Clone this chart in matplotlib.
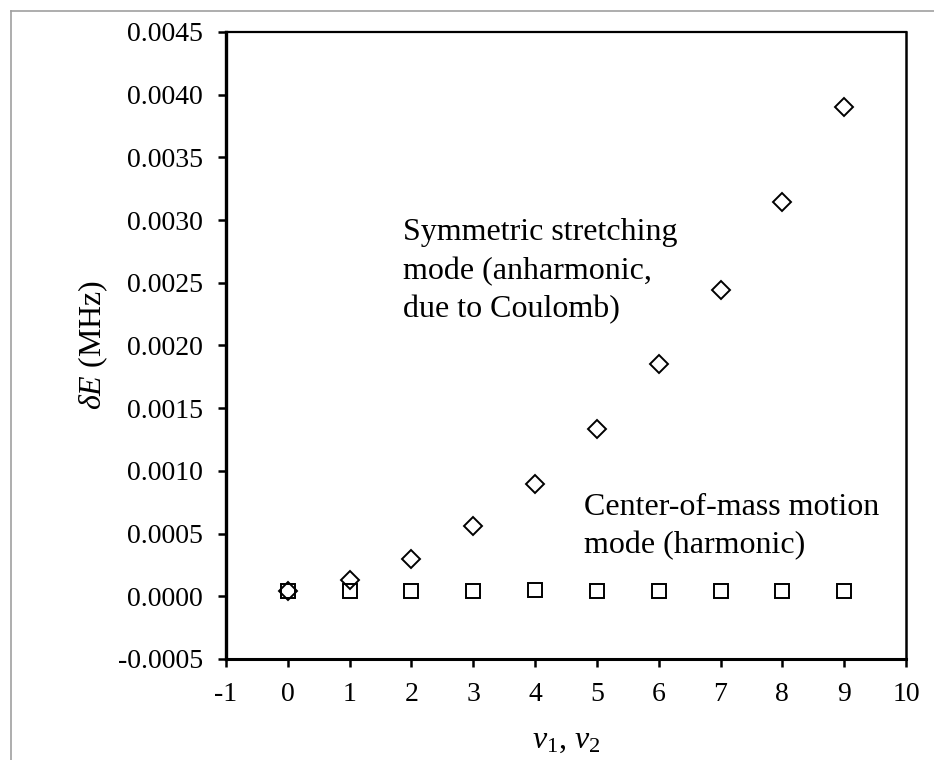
import matplotlib
matplotlib.use("Agg")
import matplotlib.pyplot as plt
from matplotlib.lines import Line2D
from matplotlib.ticker import FormatStrFormatter, MultipleLocator

plt.rcParams['font.family'] = ['Liberation Serif', 'DejaVu Serif']
plt.rcParams['mathtext.fontset'] = 'custom'
plt.rcParams['mathtext.rm'] = 'Liberation Serif'
plt.rcParams['mathtext.it'] = 'Liberation Serif:italic'
plt.rcParams['axes.unicode_minus'] = False

# vibrational quantum number (same for both modes)
quantum_n = [0, 1, 2, 3, 4, 5, 6, 7, 8, 9]
# energy shift in MHz
stretch_shift = [0.00004, 0.000126, 0.0003, 0.000556, 0.000896,
                 0.00133, 0.00185, 0.00244, 0.00314, 0.0039]
com_shift = [0.00004, 0.00004, 0.00004, 0.00004, 0.000048,
             0.00004, 0.00004, 0.00004, 0.00004, 0.00004]

stretch_label = "Symmetric stretching\nmode (anharmonic,\ndue to Coulomb)"
com_label = "Center-of-mass motion\nmode (harmonic)"

fig = plt.figure(figsize=(9.34, 7.6), dpi=100)
ax = fig.add_axes([0.242, 0.133, 0.728, 0.825])

ax.plot(quantum_n, stretch_shift, linestyle='none', marker='D', markersize=9.5,
        markerfacecolor='none', markeredgecolor='black', markeredgewidth=1.4)
ax.plot(quantum_n, com_shift, linestyle='none', marker='s', markersize=9.5,
        markerfacecolor='none', markeredgecolor='black', markeredgewidth=1.4)

ax.text(1.87, 0.00259, stretch_label, fontsize=23, ha='left', va='center',
        linespacing=1.42)
ax.text(4.79, 0.000554, com_label, fontsize=23, ha='left', va='center',
        linespacing=1.42)

ax.set_xlim(-1, 10)
ax.set_ylim(-0.0005, 0.0045)
ax.xaxis.set_major_locator(MultipleLocator(1))
ax.yaxis.set_major_locator(MultipleLocator(0.0005))
ax.xaxis.set_major_formatter(FormatStrFormatter('%d'))
ax.yaxis.set_major_formatter(FormatStrFormatter('%.4f'))

ax.spines['left'].set_linewidth(2.4)
ax.spines['bottom'].set_linewidth(2.2)
ax.spines['top'].set_linewidth(1.6)
ax.spines['right'].set_linewidth(1.8)
ax.tick_params(axis='both', direction='out', length=5.5, width=1.8,
               labelsize=20, top=False, right=False, pad=11)

ax.set_xlabel(r'$v_1$, $v_2$', fontsize=23, labelpad=14)
ax.set_ylabel(r'$\delta E$ (MHz)', fontsize=23, labelpad=6)

# thin grey frame around the chart area
gx = 11 / 934
gy = 1 - 11 / 760
fig.add_artist(Line2D([gx, gx], [0, gy], transform=fig.transFigure,
                      color='#a0a0a0', linewidth=1.2))
fig.add_artist(Line2D([gx, 1], [gy, gy], transform=fig.transFigure,
                      color='#a0a0a0', linewidth=1.2))

fig.savefig('out.png', dpi=100)
